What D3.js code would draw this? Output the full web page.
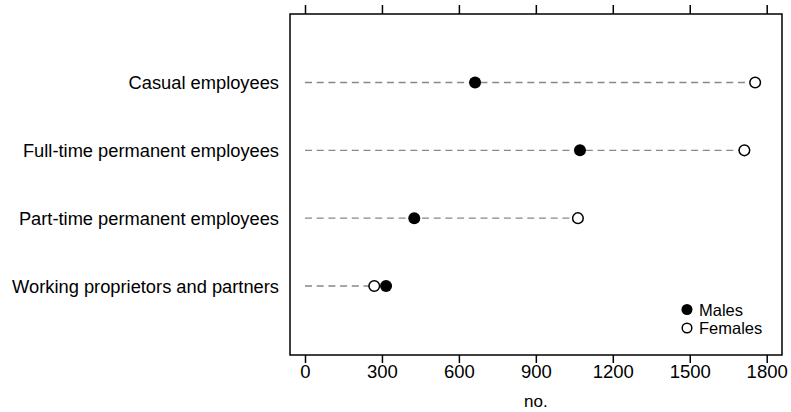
<!DOCTYPE html>
<html>
<head>
<meta charset="utf-8">
<script src="https://cdn.jsdelivr.net/npm/d3@7"></script>
<style>
  html, body { margin: 0; padding: 0; background: #fff; }
  svg { display: block; font-family: "Liberation Sans", Arial, sans-serif; }
</style>
</head>
<body>
<svg id="chart" width="791" height="412"></svg>
<script>
// Employment type categories, top to bottom
const categories = [
  "Casual employees",
  "Full-time permanent employees",
  "Part-time permanent employees",
  "Working proprietors and partners"
];
const males   = [663, 1072, 426, 316];
const females = [1755, 1713, 1064, 270];
const xTicks  = [0, 300, 600, 900, 1200, 1500, 1800];
const seriesNames = ["Males", "Females"];

const svg = d3.select("#chart");

const frame = { left: 290, right: 782, top: 14, bottom: 355 };

const x = d3.scaleLinear().domain([0, 1800]).range([305, 766.7]);
const y = d3.scalePoint().domain(categories).range([82.5, 286]);

// plot frame
svg.append("rect")
  .attr("x", frame.left).attr("y", frame.top)
  .attr("width", frame.right - frame.left)
  .attr("height", frame.bottom - frame.top)
  .attr("fill", "none").attr("stroke", "#000").attr("stroke-width", 1.5);

// bottom axis
const bottomAxis = svg.append("g")
  .attr("transform", `translate(0,${frame.bottom})`)
  .call(d3.axisBottom(x).tickValues(xTicks).tickSize(8).tickPadding(2).tickFormat(d3.format("d")));
bottomAxis.select(".domain").remove();
bottomAxis.selectAll(".tick line").attr("stroke", "#000").attr("stroke-width", 1.5);
bottomAxis.selectAll(".tick text").attr("font-size", 18.5).attr("fill", "#000")
  .attr("font-family", "Liberation Sans, Arial, sans-serif");

// top axis (ticks only)
const topAxis = svg.append("g")
  .attr("transform", `translate(0,${frame.top})`)
  .call(d3.axisTop(x).tickValues(xTicks).tickSize(9).tickFormat(""));
topAxis.select(".domain").remove();
topAxis.selectAll(".tick line").attr("stroke", "#000").attr("stroke-width", 1.5);

// axis title
svg.append("text")
  .attr("x", (x(0) + x(1800)) / 2).attr("y", 407)
  .attr("text-anchor", "middle")
  .attr("font-size", 17).text("no.");

// category labels
svg.append("g").selectAll("text")
  .data(categories).join("text")
  .attr("x", 279).attr("y", d => y(d))
  .attr("text-anchor", "end").attr("dominant-baseline", "central")
  .attr("font-size", 18.3).attr("fill", "#000")
  .text(d => d);

// dashed guide lines from zero to the furthest point
svg.append("g").selectAll("line")
  .data(categories).join("line")
  .attr("x1", x(0))
  .attr("x2", (d, i) => x(Math.max(males[i], females[i])))
  .attr("y1", d => y(d)).attr("y2", d => y(d))
  .attr("stroke", "#888").attr("stroke-width", 1.3)
  .attr("stroke-dasharray", "7,4.7");

// female (open) markers
svg.append("g").selectAll("circle")
  .data(categories).join("circle")
  .attr("cx", (d, i) => x(females[i])).attr("cy", d => y(d))
  .attr("r", 5.3).attr("fill", "#fff").attr("stroke", "#000").attr("stroke-width", 1.5);

// male (filled) markers
svg.append("g").selectAll("circle")
  .data(categories).join("circle")
  .attr("cx", (d, i) => x(males[i])).attr("cy", d => y(d))
  .attr("r", 6).attr("fill", "#000");

// legend
const legend = svg.append("g");
seriesNames.forEach((name, i) => {
  const ly = 309.5 + i * 18.5;
  legend.append("circle")
    .attr("cx", 687).attr("cy", ly)
    .attr("r", i === 0 ? 5.5 : 4.8)
    .attr("fill", i === 0 ? "#000" : "#fff")
    .attr("stroke", "#000").attr("stroke-width", i === 0 ? 0 : 1.5);
  legend.append("text")
    .attr("x", 699).attr("y", ly)
    .attr("dominant-baseline", "central")
    .attr("font-size", 16.5).text(name);
});
</script>
</body>
</html>
